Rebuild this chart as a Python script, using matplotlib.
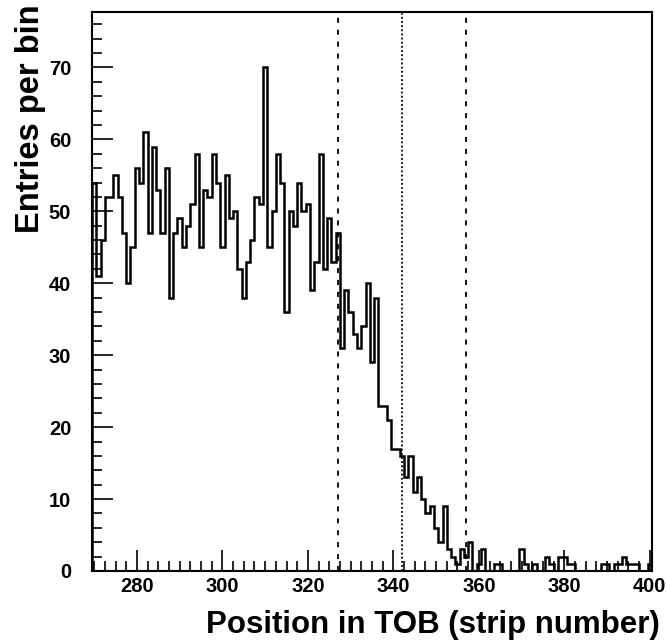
#!/usr/bin/env python3
"""Hit positions in the TOB: entries per strip with the beam window marked."""

import matplotlib

matplotlib.use("Agg")

import matplotlib.pyplot as plt
import numpy as np
from matplotlib.ticker import MultipleLocator

# Data (one bin per strip)
first_strip = 270
counts = [
    54, 41, 46, 52, 52, 55, 52, 47, 40, 45,  # 270-279
    56, 54, 61, 47, 59, 53, 47, 56, 38, 47,  # 280-289
    49, 45, 48, 51, 58, 45, 53, 52, 58, 54,  # 290-299
    45, 55, 49, 50, 42, 38, 43, 46, 52, 51,  # 300-309
    70, 45, 50, 58, 54, 36, 50, 48, 54, 50,  # 310-319
    51, 39, 43, 58, 42, 49, 43, 47, 31, 39,  # 320-329
    36, 33, 31, 34, 40, 29, 38, 23, 23, 21,  # 330-339
    17, 17, 16, 13, 16, 11, 13, 10, 8, 9,    # 340-349
    6, 4, 9, 3, 2, 1, 3, 2, 4, 0,            # 350-359
    1, 3, 0, 0, 1, 1, 0, 0, 0, 0,            # 360-369
    3, 1, 0, 1, 0, 0, 2, 1, 0, 2,            # 370-379
    2, 1, 1, 0, 0, 0, 0, 0, 0, 1,            # 380-389
    1, 0, 1, 1, 2, 1, 1, 1, 0, 0,            # 390-399
    1,                                       # 400
]
window_centre = 342
window_edges = [327, 357]

x_label = "Position in TOB (strip number)"
y_label = "Entries per bin"

plt.rcParams.update(
    {
        "font.family": ["Liberation Sans", "DejaVu Sans"],
        "font.weight": "bold",
        "font.size": 14.5,
        "axes.linewidth": 1.5,
        "figure.dpi": 100,
        "savefig.dpi": 100,
    }
)


def create_plot():
    fig = plt.figure(figsize=(6.67, 6.42))
    ax = fig.add_axes([92 / 667, 1 - 571 / 642, 560 / 667, 559 / 642])

    edges = np.arange(len(counts) + 1) + first_strip - 0.5
    ax.stairs(counts, edges, color="black", linewidth=1.8, baseline=0)

    for x in window_edges:
        ax.axvline(x, color="black", linewidth=1.3, linestyle=(0, (2.8, 3.8)))
    ax.axvline(window_centre, color="black", linewidth=1.3, linestyle=(0, (1.0, 1.3)))

    ax.set_xlim(edges[0], edges[-1])
    ax.set_ylim(0, 77.7)

    ax.xaxis.set_major_locator(MultipleLocator(20))
    ax.xaxis.set_minor_locator(MultipleLocator(2.5))
    ax.yaxis.set_major_locator(MultipleLocator(10))
    ax.yaxis.set_minor_locator(MultipleLocator(2))
    ax.tick_params(which="both", direction="in", top=False, right=False, width=1.2)
    ax.tick_params(which="major", length=15)
    ax.tick_params(which="minor", length=7.5)
    ax.tick_params(axis="x", which="major", pad=4)
    ax.tick_params(axis="y", which="major", pad=15)
    for lab in ax.get_xticklabels() + ax.get_yticklabels():
        lab.set_fontweight("bold")

    fig.text(660 / 667, 1 - 633 / 642, x_label, ha="right", va="baseline",
             fontsize=22.5, fontweight="bold")
    fig.text(31 / 667, 1 - 4 / 642, y_label, ha="center", va="top",
             rotation=90, fontsize=23.5, fontweight="bold")
    return fig


def main():
    fig = create_plot()
    fig.savefig("out.png", facecolor="white")
    plt.close(fig)


if __name__ == "__main__":
    main()
